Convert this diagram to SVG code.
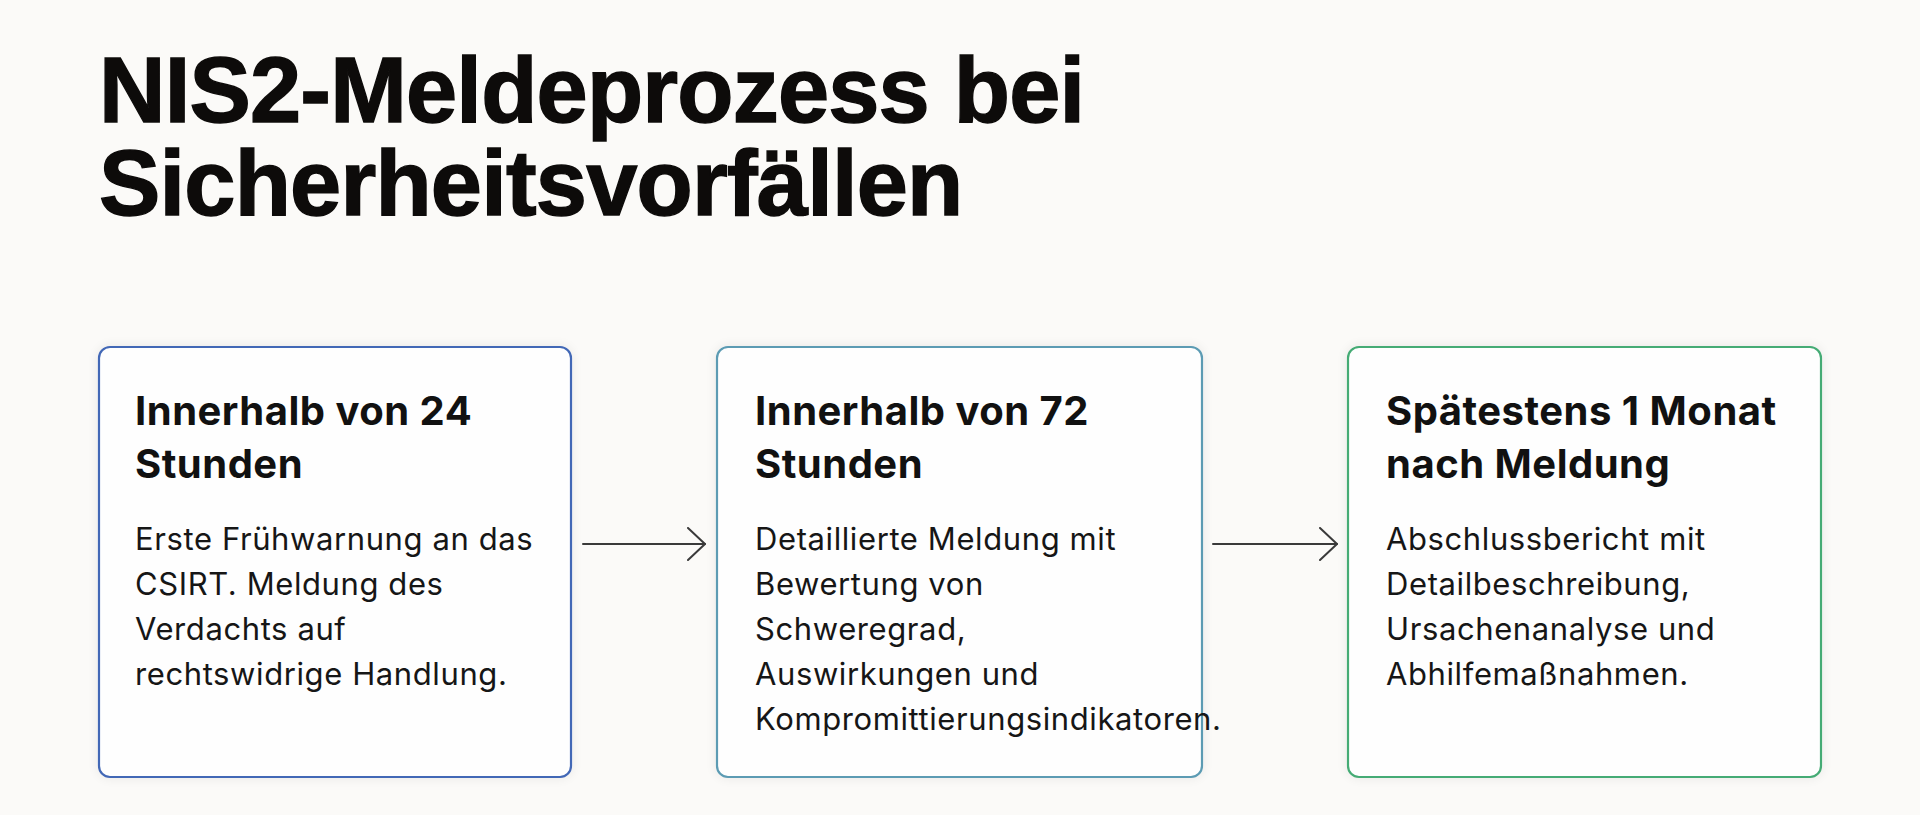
<svg xmlns="http://www.w3.org/2000/svg" width="1920" height="815" viewBox="0 0 1920 815">
  <defs>
    <style>
      .title { font-family: "Liberation Sans", Arial, sans-serif; font-weight: 700; font-size: 92px; fill: #0d0b0a; stroke: #0d0b0a; stroke-width: 1.4px; letter-spacing: -0.8px; }
      .head { font-family: Inter, "Noto Sans", sans-serif; font-weight: 700; font-size: 40px; fill: #111111; letter-spacing: 0.5px; }
      .body { font-family: Inter, "Noto Sans", sans-serif; font-weight: 400; font-size: 31px; fill: #161616; letter-spacing: 0.6px; }
      .box { fill: #fefefe; stroke-width: 2.2; }
      .conn { stroke: #3a3a3a; stroke-width: 2; fill: none; stroke-linecap: round; stroke-linejoin: round; }
    </style>
    <filter id="glow" x="-10%" y="-10%" width="120%" height="120%">
      <feGaussianBlur in="SourceAlpha" stdDeviation="6"/>
      <feComponentTransfer><feFuncA type="linear" slope="0.08"/></feComponentTransfer>
      <feMerge><feMergeNode/><feMergeNode in="SourceGraphic"/></feMerge>
    </filter>
    <marker id="chev" viewBox="0 0 20 34" refX="18" refY="17" markerWidth="20" markerHeight="34" markerUnits="userSpaceOnUse" orient="auto">
      <path d="M1,1 L18,17 L1,33" fill="none" stroke="#3a3a3a" stroke-width="2" stroke-linecap="round" stroke-linejoin="round"/>
    </marker>
  </defs>
  <rect x="0" y="0" width="1920" height="815" fill="#fbfaf8"/>

  <g id="title">
    <text class="title" x="99" y="122">NIS2-Meldeprozess bei</text>
    <text class="title" x="99" y="215">Sicherheitsvorfällen</text>
  </g>

  <g id="node-24h">
    <rect class="box" x="99" y="347" width="472" height="430" rx="11" stroke="#4267b6" filter="url(#glow)"/>
    <text class="head" x="135" y="425">Innerhalb von 24</text>
    <text class="head" x="135" y="478">Stunden</text>
    <text class="body" x="135" y="550">Erste Frühwarnung an das</text>
    <text class="body" x="135" y="595">CSIRT. Meldung des</text>
    <text class="body" x="135" y="640">Verdachts auf</text>
    <text class="body" x="135" y="685">rechtswidrige Handlung.</text>
  </g>

  <g id="node-72h">
    <rect class="box" x="717" y="347" width="485" height="430" rx="11" stroke="#5b9bb3" filter="url(#glow)"/>
    <text class="head" x="755" y="425">Innerhalb von 72</text>
    <text class="head" x="755" y="478">Stunden</text>
    <text class="body" x="755" y="550">Detaillierte Meldung mit</text>
    <text class="body" x="755" y="595">Bewertung von</text>
    <text class="body" x="755" y="640">Schweregrad,</text>
    <text class="body" x="755" y="685">Auswirkungen und</text>
    <text class="body" x="755" y="730">Kompromittierungsindikatoren.</text>
  </g>

  <g id="node-1m">
    <rect class="box" x="1348" y="347" width="473" height="430" rx="11" stroke="#45ab74" filter="url(#glow)"/>
    <text class="head" x="1386" y="425">Spätestens 1 Monat</text>
    <text class="head" x="1386" y="478">nach Meldung</text>
    <text class="body" x="1386" y="550">Abschlussbericht mit</text>
    <text class="body" x="1386" y="595">Detailbeschreibung,</text>
    <text class="body" x="1386" y="640">Ursachenanalyse und</text>
    <text class="body" x="1386" y="685">Abhilfemaßnahmen.</text>
  </g>

  <g id="connectors">
    <line class="conn" x1="583" y1="544" x2="705" y2="544" marker-end="url(#chev)"/>
    <line class="conn" x1="1213" y1="544" x2="1337" y2="544" marker-end="url(#chev)"/>
  </g>
</svg>
